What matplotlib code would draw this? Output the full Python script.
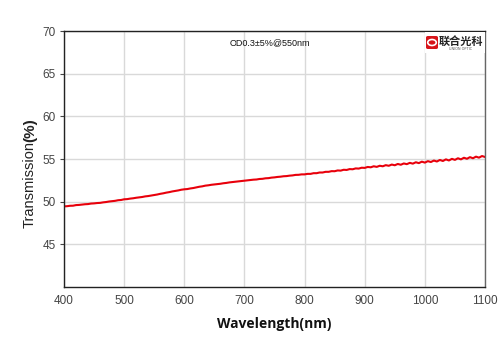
import numpy as np
import matplotlib
matplotlib.use("Agg")
import matplotlib.pyplot as plt
from matplotlib.patches import FancyBboxPatch, Circle, Rectangle

wavelength = list(range(400, 1101, 5))
transmission = [
    49.45, 49.47, 49.52, 49.53, 49.60, 49.62, 49.66, 49.70, 49.72, 49.78,
    49.80, 49.84, 49.86, 49.92, 49.96, 50.02, 50.06, 50.10, 50.17, 50.20,
    50.28, 50.30, 50.36, 50.40, 50.46, 50.50, 50.55, 50.62, 50.66, 50.72,
    50.78, 50.84, 50.92, 50.98, 51.06, 51.12, 51.20, 51.26, 51.32, 51.40,
    51.45, 51.48, 51.55, 51.60, 51.68, 51.75, 51.80, 51.88, 51.92, 51.98,
    52.02, 52.06, 52.10, 52.16, 52.20, 52.26, 52.30, 52.35, 52.38, 52.42,
    52.45, 52.50, 52.53, 52.58, 52.60, 52.66, 52.68, 52.74, 52.76, 52.82,
    52.85, 52.90, 52.93, 52.98, 53.00, 53.05, 53.08, 53.14, 53.15, 53.20,
    53.20, 53.26, 53.26, 53.34, 53.34, 53.42, 53.42, 53.50, 53.50, 53.58,
    53.57, 53.66, 53.64, 53.74, 53.72, 53.82, 53.80, 53.90, 53.88, 53.98,
    53.96, 54.07, 54.03, 54.15, 54.08, 54.21, 54.15, 54.28, 54.21, 54.35,
    54.27, 54.42, 54.33, 54.48, 54.40, 54.55, 54.46, 54.62, 54.52, 54.69,
    54.58, 54.75, 54.65, 54.82, 54.71, 54.89, 54.77, 54.96, 54.83, 55.02,
    54.90, 55.09, 54.96, 55.15, 55.03, 55.22, 55.09, 55.28, 55.16, 55.35,
    55.24,
]
x_ticks = [400, 500, 600, 700, 800, 900, 1000, 1100]
y_ticks = [45, 50, 55, 60, 65, 70]
annotation = "OD0.3±5%@550nm"
logo_text = "联合光科"

fig = plt.figure(figsize=(5.0, 3.53), dpi=100)
ax = fig.add_axes([0.128, 0.187, 0.842, 0.725])

ax.plot(wavelength, transmission, color="#e8000b", lw=1.5)
ax.set_xlim(400, 1100)
ax.set_ylim(40, 70)
ax.set_xticks(x_ticks)
ax.set_yticks(y_ticks)
ax.grid(True, color="#d9d9d9", lw=1.0)
ax.set_axisbelow(True)
for s in ax.spines.values():
    s.set_color("#222222")
    s.set_linewidth(1.0)
ax.spines["right"].set_color("#666666")
ax.tick_params(axis="x", length=0, pad=6, labelsize=8.5, colors="#444444")
ax.tick_params(axis="y", length=3, direction="out", pad=3, labelsize=8.5, colors="#444444")
for lab in ax.get_xticklabels() + ax.get_yticklabels():
    lab.set_family("Liberation Sans")

ax.set_xlabel("Wavelength(nm)", fontsize=10, fontweight="bold",
              family="Open Sans", labelpad=7, color="#111111")

t1 = fig.text(30 / 500, 1 - 185 / 353, "Transmission", rotation=90,
              ha="center", va="center", fontsize=10.5, family="Liberation Sans",
              color="#222222")
ax.annotate("(%)", xy=(0.5, 1.0), xycoords=t1, ha="center", va="bottom",
            rotation=90, fontsize=11, fontweight="bold", family="Liberation Sans",
            color="#222222")

fig.text(270 / 500, 1 - 43 / 353, annotation, ha="center", va="center",
         fontsize=6.5, family="Liberation Sans", color="#111111")

# logo
fig.patches.append(Rectangle((425 / 500, 1 - 53 / 353), 60 / 500, 21 / 353,
                             transform=fig.transFigure, facecolor="white",
                             edgecolor="none", zorder=5))
fig.patches.append(FancyBboxPatch((426 / 500, 1 - 49 / 353), 12 / 500, 13 / 353,
                                  boxstyle="round,pad=0,rounding_size=0.004",
                                  transform=fig.transFigure, facecolor="#d7141a",
                                  edgecolor="none", zorder=6))
fig.patches.append(Circle((432 / 500, 1 - 42.5 / 353), 0.0085,
                          transform=fig.transFigure, facecolor="none",
                          edgecolor="white", lw=1.2, zorder=7))
fig.text(461 / 500, 1 - 41 / 353, logo_text, ha="center", va="center",
         fontsize=8, fontweight="bold", family="Noto Sans CJK SC",
         color="#222222", zorder=8)
fig.text(461 / 500, 1 - 49 / 353, "UNION OPTIC", ha="center", va="center",
         fontsize=2.5, family="DejaVu Sans", color="#555555", zorder=8)

fig.savefig("out.png", dpi=100)
